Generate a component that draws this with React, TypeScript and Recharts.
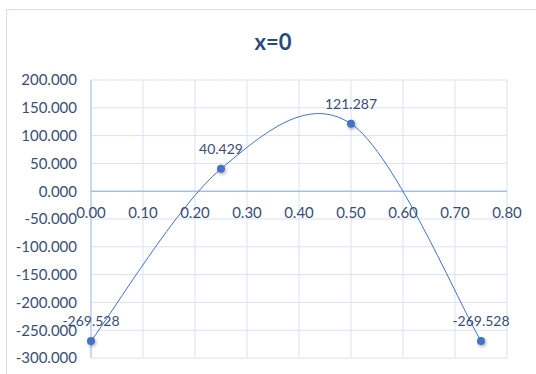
import React from "react";
import {
  LineChart,
  Line,
  XAxis,
  YAxis,
  CartesianGrid,
  ReferenceLine,
  ReferenceDot,
  LabelList,
} from "recharts";

const xValues = [0, 0.25, 0.5, 0.75];
const yValues = [-269.528, 40.429, 121.287, -269.528];
const xTicks = [0, 0.1, 0.2, 0.3, 0.4, 0.5, 0.6, 0.7, 0.8];
const yTicks = [-300, -250, -200, -150, -100, -50, 0, 50, 100, 150, 200];
const title = "x=0";

const data = xValues.map((x, i) => ({ x, y: yValues[i] }));

const FONT = "Lato, Carlito, Calibri, sans-serif";
const TEXT = "#3a4e74";
const BLUE = "#4472c4";

// Excel style smoothed line (Catmull-Rom through the points)
const excelSmooth = (context: any) => {
  let pts: [number, number][] = [];
  return {
    areaStart() {},
    areaEnd() {},
    lineStart() {
      pts = [];
    },
    point(x: number, y: number) {
      pts.push([x, y]);
    },
    lineEnd() {
      if (!pts.length) return;
      context.moveTo(pts[0][0], pts[0][1]);
      for (let i = 0; i < pts.length - 1; i++) {
        const p0 = pts[Math.max(i - 1, 0)];
        const p1 = pts[i];
        const p2 = pts[i + 1];
        const p3 = pts[Math.min(i + 2, pts.length - 1)];
        context.bezierCurveTo(
          p1[0] + (p2[0] - p0[0]) / 6,
          p1[1] + (p2[1] - p0[1]) / 6,
          p2[0] - (p3[0] - p1[0]) / 6,
          p2[1] - (p3[1] - p1[1]) / 6,
          p2[0],
          p2[1]
        );
      }
    },
  };
};

const renderDot = (p: any) => (
  <g key={`dot-${p.index}`}>
    {p.index === 0 && (
      <defs>
        <filter id="dotBlur" x="-50%" y="-50%" width="200%" height="200%">
          <feGaussianBlur stdDeviation="1.5" />
        </filter>
      </defs>
    )}
    <circle cx={p.cx + 1} cy={p.cy + 1.5} r={4.5} fill="#000" opacity={0.25} filter="url(#dotBlur)" />
    <circle cx={p.cx} cy={p.cy} r={4} fill={BLUE} />
  </g>
);

export default function App() {
  return (
    <div
      style={{
        position: "fixed",
        left: 0,
        top: 0,
        width: 536,
        height: 374,
        overflow: "hidden",
        background: "#fff",
        fontFamily: FONT,
      }}
    >
      <div
        style={{
          position: "absolute",
          left: 6,
          top: 9,
          width: 600,
          height: 400,
          border: "1px solid #d9dfe8",
        }}
      />
      <div
        style={{
          position: "absolute",
          left: 0,
          width: 546,
          top: 28,
          textAlign: "center",
          fontSize: 22,
          fontWeight: 700,
          color: "#284a7e",
          lineHeight: "28px",
        }}
      >
        {title}
      </div>
      <div style={{ position: "absolute", left: 0, top: 0 }}>
        <LineChart
          width={536}
          height={374}
          data={data}
          margin={{ top: 80, right: 29, left: 0, bottom: 16 }}
        >
          <CartesianGrid stroke="#d9e2f3" strokeWidth={1} />
          <XAxis
            type="number"
            dataKey="x"
            domain={[0, 0.8]}
            ticks={xTicks}
            hide
          />
          <YAxis
            type="number"
            domain={[-300, 200]}
            ticks={yTicks}
            width={91}
            tickLine={false}
            tickMargin={8}
            axisLine={{ stroke: "#a9bfe6" }}
            tickFormatter={(v: number) => v.toFixed(3)}
            tick={{ fill: TEXT, fontSize: 15, fontFamily: FONT }}
          />
          <ReferenceLine y={0} stroke="#8eaadb" strokeWidth={1} />
          {xTicks.map((t) => (
            <ReferenceDot
              key={t}
              x={t}
              y={0}
              r={0}
              fill="none"
              stroke="none"
              label={{
                value: t.toFixed(2),
                position: "bottom",
                offset: 16,
                fill: TEXT,
                fontSize: 15,
                fontFamily: FONT,
              }}
            />
          ))}
          <Line
            dataKey="y"
            type={excelSmooth as any}
            stroke={BLUE}
            strokeWidth={1}
            dot={renderDot}
            activeDot={false}
            isAnimationActive={false}
          >
            <LabelList
              dataKey="y"
              position="top"
              offset={15}
              fill={TEXT}
              fontSize={14}
              fontFamily={FONT}
              formatter={(v: any) => Number(v).toFixed(3)}
            />
          </Line>
        </LineChart>
      </div>
    </div>
  );
}
